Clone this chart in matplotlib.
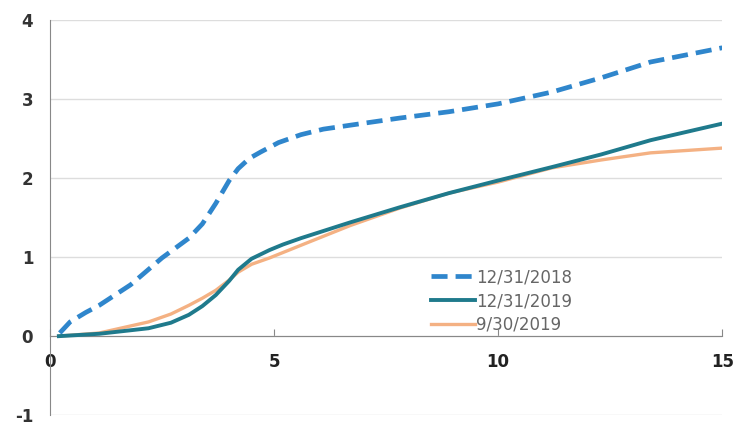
import matplotlib
matplotlib.use("Agg")
import matplotlib.pyplot as plt

plt.rcParams["axes.unicode_minus"] = False
plt.rcParams["font.family"] = ["DejaVu Sans"]

# Series read as (x, y) pairs
x_2018 = [0.22, 0.45, 0.8, 1.1, 1.8, 2.5, 3.1, 3.4, 3.7, 4.0, 4.2, 4.45, 4.7, 5.1, 5.6, 6.1, 6.7, 7.8, 8.9, 10.0, 11.2, 12.3, 13.4, 15.0]
y_2018 = [0.04, 0.18, 0.30, 0.39, 0.65, 0.99, 1.24, 1.42, 1.68, 1.97, 2.12, 2.25, 2.33, 2.45, 2.55, 2.62, 2.67, 2.76, 2.84, 2.94, 3.09, 3.27, 3.47, 3.65]

x_2019 = [0.2, 1.1, 2.2, 2.7, 3.1, 3.4, 3.7, 4.0, 4.2, 4.5, 4.9, 5.2, 5.6, 6.7, 7.8, 8.9, 10.0, 11.2, 12.3, 13.4, 15.0]
y_2019 = [0.0, 0.03, 0.10, 0.17, 0.27, 0.38, 0.52, 0.70, 0.84, 0.98, 1.09, 1.16, 1.24, 1.44, 1.63, 1.81, 1.97, 2.14, 2.30, 2.48, 2.69]

x_0930 = [0.2, 1.1, 2.2, 2.7, 3.1, 3.4, 3.7, 4.0, 4.2, 4.5, 4.9, 5.6, 6.7, 7.8, 8.9, 10.0, 11.2, 12.3, 13.4, 15.0]
y_0930 = [0.0, 0.04, 0.18, 0.28, 0.39, 0.48, 0.58, 0.71, 0.81, 0.91, 0.99, 1.15, 1.40, 1.62, 1.81, 1.95, 2.13, 2.23, 2.32, 2.38]

labels = ["12/31/2018", "12/31/2019", "9/30/2019"]
x_ticks = [0, 5, 10, 15]
y_ticks = [-1, 0, 1, 2, 3, 4]

fig = plt.figure(figsize=(7.34, 4.28), dpi=100)
ax = fig.add_axes([0.068, 0.030, 0.916, 0.923])

ax.plot(x_2018, y_2018, color="#2F86CC", lw=3.4, ls=(0, (3.4, 1.7)), label=labels[0], zorder=3)
ax.plot(x_2019, y_2019, color="#1F7A8C", lw=2.8, label=labels[1], zorder=3)
ax.plot(x_0930, y_0930, color="#F4B183", lw=2.4, label=labels[2], zorder=2)

ax.set_xlim(0, 15)
ax.set_ylim(-1, 4)
ax.set_xticks(x_ticks)
ax.set_yticks(y_ticks)

for s in ["top", "right"]:
    ax.spines[s].set_visible(False)
ax.spines["bottom"].set_position(("data", 0))
ax.spines["bottom"].set_color("#888888")
ax.spines["left"].set_color("#888888")
ax.spines["bottom"].set_zorder(1)

ax.grid(axis="y", color="#dddddd", lw=1)
ax.set_axisbelow(True)

ax.tick_params(axis="x", length=5, color="#888888", direction="in", pad=12,
               labelsize=12, labelcolor="#222222")
ax.tick_params(axis="y", length=0, pad=12, labelsize=12, labelcolor="#333333")
for t in ax.get_xticklabels() + ax.get_yticklabels():
    t.set_fontweight("bold")

leg = ax.legend(loc="upper left", bbox_to_anchor=(0.545, 0.41), frameon=False,
                fontsize=12, handlelength=2.6, handletextpad=0.1, labelspacing=0.35)
for t in leg.get_texts():
    t.set_color("#666666")

fig.savefig("out.png", dpi=100)
